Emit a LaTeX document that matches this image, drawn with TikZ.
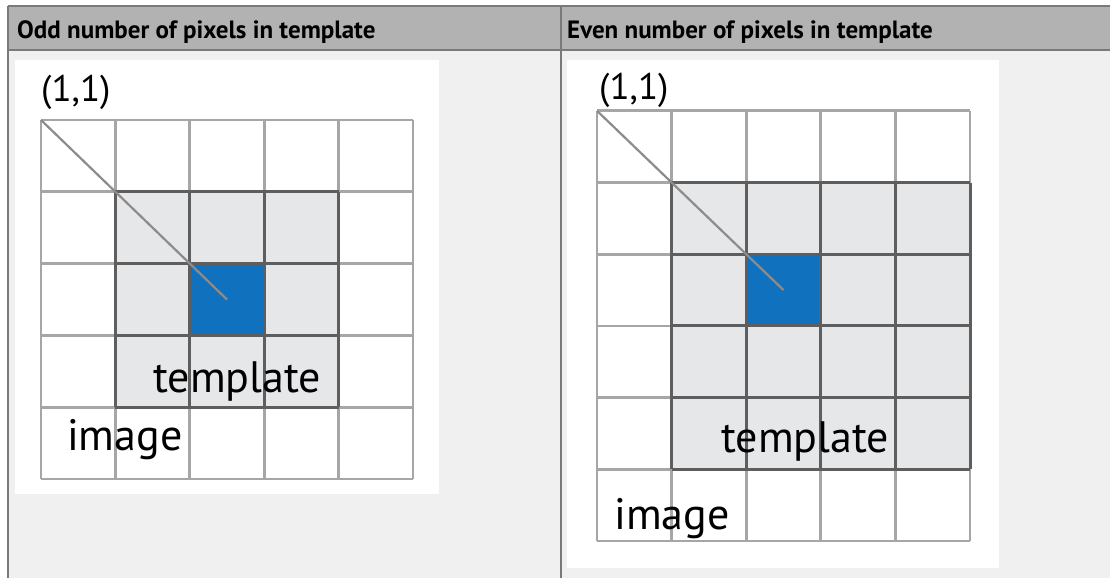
\documentclass[tikz,border=0pt]{standalone}
\usepackage{fontspec}
\setmainfont{PT Sans}
\usepackage{xcolor}

\definecolor{hdrgray}{HTML}{B2B2B2}
\definecolor{bodygray}{HTML}{F0F0F0}
\definecolor{rulegray}{HTML}{7A7A7A}
\definecolor{cellline}{HTML}{A6A6A6}
\definecolor{tplline}{HTML}{5E5E5E}
\definecolor{tplfill}{HTML}{E6E7E9}
\definecolor{pixblue}{HTML}{1072BE}

\begin{document}
\begin{tikzpicture}[x=1pt,y=-1pt,
  hdr/.style={font=\fontsize{25}{28}\selectfont\bfseries,inner sep=0pt,anchor=base west},
  lbl/.style={font=\fontsize{44}{48}\selectfont,inner sep=0pt,anchor=base west},
  org/.style={font=\fontsize{37}{40}\selectfont,inner sep=0pt,anchor=base west},
  imgline/.style={cellline,line width=2.8pt},
  tplgrid/.style={tplline,line width=3pt},
  diag/.style={gray!90,line width=2.2pt}]
\useasboundingbox (0,0) rectangle (1110,578);
% table frame
\fill[white] (0,0) rectangle (1110,578);
\fill[bodygray] (8,50) rectangle (1110,578);
\fill[hdrgray] (8,6) rectangle (1110,50);
\draw[rulegray,line width=1.5pt] (8,6) -- (1110,6);
\draw[rulegray,line width=1.5pt] (8,50) -- (1110,50);
\draw[rulegray,line width=2pt] (8,6) -- (8,578);
\draw[rulegray,line width=2pt] (561,6) -- (561,578);
\node[hdr] (hodd) at (17,39) {Odd number of pixels in template};
\node[hdr] (heven) at (567,39) {Even number of pixels in template};
\fill[white] (15,60) rectangle (439,494);
\fill[white] (567,60) rectangle (999,568);

% odd: 5x5 image, 3x3 template
\begin{scope}[shift={(41,479)},x=74.4pt,y=71.8pt]
\fill[tplfill] (1,1) rectangle (4,4);
\fill[pixblue] (2,2) rectangle (3,3);
\draw[imgline,step=1] (0,0) grid (5,5);
\draw[tplgrid,step=1] (1,1) grid (4,4);
\draw[diag] (0,5) -- (2.5,2.5);
\end{scope}
\node[org] (oddorg) at (41,101) {(1,1)};
\node[lbl] (oddtpl) at (153,392) {template};
\node[lbl] (oddimg) at (67,450) {image};

% even: 5x6 image, 4x4 template
\begin{scope}[shift={(597,541)},x=74.6pt,y=71.7pt]
\fill[tplfill] (1,1) rectangle (5,5);
\fill[pixblue] (2,3) rectangle (3,4);
\draw[imgline,step=1] (0,0) grid (5,6);
\draw[tplgrid,step=1] (1,1) grid (5,5);
\draw[diag] (0,6) -- (2.5,3.5);
\end{scope}
\node[org] (evenorg) at (599,99) {(1,1)};
\node[lbl] (eventpl) at (721,452) {template};
\node[lbl] (evenimg) at (614,529) {image};
\end{tikzpicture}
\end{document}
